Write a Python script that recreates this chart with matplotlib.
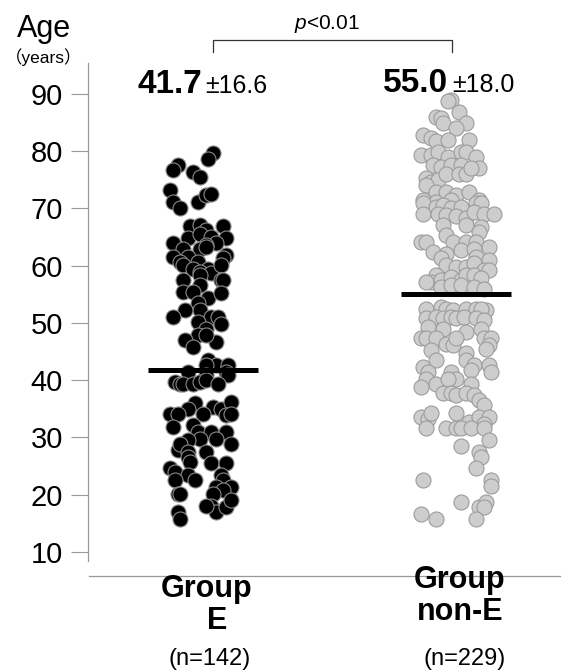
import numpy as np
import matplotlib.pyplot as plt
from matplotlib.lines import Line2D

plt.rcParams['font.family'] = ['Liberation Sans', 'Noto Sans CJK JP']
plt.rcParams['mathtext.fontset'] = 'custom'
plt.rcParams['mathtext.it'] = 'Liberation Sans:italic'
plt.rcParams['mathtext.rm'] = 'Liberation Sans'

# --- data ---
groups = ['E', 'non-E']
counts = [142, 229]
means = [41.7, 55.0]
sds = [16.6, 18.0]

# group E: age and horizontal jitter (category units)
e_age = [79.6, 78.7, 77.6, 76.7, 76.4, 75.5, 73.3, 71.2, 70.0, 71.2, 72.3, 72.5,
         66.9, 67.1, 66.2, 66.9, 64.8, 65.6, 65.1, 64.8, 63.9, 63.6, 63.9, 63.0,
         63.0, 63.3, 61.9, 61.6, 61.6, 60.7, 60.7, 61.3, 59.5,
         60.1, 59.5, 58.9, 58.7, 60.1, 57.5, 58.4, 56.6, 57.5, 57.5, 55.4, 55.4,
         54.3, 55.2, 53.4, 52.2, 52.2, 51.1, 51.1, 51.1, 49.9, 50.2, 49.0, 47.9,
         47.0, 45.8, 46.7, 47.9, 43.5, 42.6, 42.6, 42.6, 41.4, 41.4, 40.9, 40.9,
         39.7, 39.4, 39.4, 39.4, 39.7, 40.0, 39.4,
         36.0, 35.0, 35.3, 35.0, 36.2, 34.1, 34.1, 34.1, 33.9, 34.1, 31.8, 32.1,
         31.0, 31.0, 31.0, 29.8, 29.8, 29.5, 28.9, 27.8, 28.9, 27.5, 27.5, 26.6,
         25.7, 25.6, 25.6, 24.6, 24.0, 23.4, 22.5, 22.5, 23.4, 22.5, 21.3, 21.3,
         20.8, 20.2, 20.1, 20.2, 18.1, 17.0, 17.9, 19.0, 18.1, 17.0, 15.8]
e_jit = [0.04, 0.02, -0.10, -0.12, -0.04, -0.01, -0.13, -0.12, -0.09, -0.02, 0.01, 0.03,
         -0.05, -0.01, 0.01, 0.08, -0.06, -0.01, 0.03, 0.09, 0.05, 0.01, -0.12, -0.08,
         -0.01, 0.01, 0.09, -0.12, -0.06, -0.02, -0.09, 0.08, 0.02,
         -0.08, -0.04, -0.01, 0.03, 0.07, -0.08, -0.01, -0.01, 0.07, 0.08, -0.08, -0.04,
         0.02, 0.07, -0.02, -0.01, -0.07, -0.12, 0.03, 0.06, 0.07, -0.02, 0.01, -0.02,
         -0.07, -0.04, 0.05, 0.01, 0.02, 0.05, 0.01, 0.10, 0.09, -0.06, 0.01, 0.10,
         -0.11, -0.09, -0.08, -0.04, -0.01, 0.01, 0.06,
         -0.03, -0.06, 0.04, 0.07, 0.11, -0.13, -0.10, 0.00, 0.09, 0.11, -0.12, -0.04,
         -0.02, 0.03, 0.09, 0.05, -0.01, -0.06, 0.11, -0.10, -0.09, -0.06, 0.01, -0.06,
         -0.05, 0.03, 0.09, -0.13, -0.11, -0.06, -0.03, -0.11, 0.07, 0.08, 0.05, 0.11,
         0.08, -0.10, -0.09, 0.04, 0.03, 0.05, 0.09, 0.11, 0.01, -0.10, -0.09]

# group non-E
ne_age = [89.0, 88.7, 86.9, 86.0, 85.8, 84.9, 84.9, 84.0, 82.8, 82.3, 81.7, 82.0,
          82.0, 79.3, 79.3, 79.9, 79.0, 79.9, 79.9, 79.0, 77.6, 77.3, 77.6, 77.6,
          77.1, 75.3, 74.7, 75.0, 76.1, 76.1, 76.1, 77.0, 74.1, 72.9, 72.9, 72.3,
          72.9, 71.5, 71.5, 71.2, 71.5,
          70.9, 70.3, 70.6, 70.0, 70.3, 70.9, 70.9, 69.1, 69.1, 68.8, 68.6, 68.3,
          69.4, 69.1, 69.1, 67.1, 67.1, 66.8, 65.9, 65.3, 64.2, 64.2, 64.2, 64.2,
          64.2, 62.4, 62.1, 62.7, 63.0, 63.3, 61.6, 61.0, 61.3, 60.1, 59.8, 59.8,
          60.4, 59.2, 59.2, 58.4, 57.2, 57.5, 58.1, 57.5, 58.4, 58.4, 57.8, 57.2,
          56.3, 56.6, 56.6, 56.3, 56.0,
          52.5, 52.8, 52.5, 52.2, 52.5, 52.5, 52.2, 52.5, 50.8, 51.1, 50.8, 51.1,
          50.8, 51.1, 50.8, 50.5, 49.3, 49.0, 48.4, 49.0, 47.3, 47.3, 47.3, 47.3,
          46.4, 46.1, 47.3, 47.3, 46.1, 45.5, 45.2, 44.7, 43.5, 43.5, 42.6, 42.6,
          41.4, 42.3, 41.4, 40.3, 39.4, 41.4, 40.3, 40.3, 41.7, 39.4, 38.8, 37.7,
          37.7, 37.4, 37.7, 37.4, 36.5, 35.6,
          33.6, 33.3, 34.2, 34.2, 32.7, 33.6, 33.6, 32.4, 31.6, 31.6, 31.6, 31.6,
          31.6, 31.6, 29.5, 28.6, 27.5, 26.6, 24.6, 22.6, 22.5, 21.6, 18.7, 17.9,
          18.7, 17.9, 16.7, 15.8, 15.8]
ne_jit = [-0.02, -0.03, 0.01, -0.08, -0.06, -0.05, 0.04, 0.00, -0.13, -0.10, -0.08, -0.03,
          0.05, -0.14, -0.10, -0.07, -0.03, 0.02, 0.04, 0.08, -0.09, -0.06, -0.02, 0.02,
          0.09, -0.12, -0.10, -0.07, -0.04, 0.01, 0.04, 0.06, -0.12, -0.08, -0.04, 0.00,
          0.05, 0.09, -0.13, -0.08, -0.02,
          -0.13, -0.08, -0.05, -0.02, 0.02, 0.08, 0.10, -0.13, -0.07, -0.04, 0.00, 0.04,
          0.07, 0.11, 0.15, -0.05, 0.04, 0.10, 0.09, -0.04, -0.14, -0.12, -0.01, 0.04,
          0.08, -0.09, -0.04, 0.02, 0.07, 0.13, 0.08, 0.13, -0.06, -0.04, 0.00, 0.04,
          0.07, 0.11, 0.13, -0.08, -0.10, -0.06, -0.02, 0.02, 0.04, 0.07, 0.10, -0.12,
          -0.06, -0.02, 0.02, 0.07, 0.11,
          -0.12, -0.06, -0.04, -0.01, 0.04, 0.08, 0.12, 0.10, -0.12, -0.08, -0.05, -0.02,
          0.00, 0.03, 0.08, 0.11, -0.11, -0.05, 0.04, 0.10, 0.11, -0.14, -0.12, -0.08,
          -0.04, -0.01, 0.00, 0.14, 0.13, 0.12, -0.10, 0.04, 0.04, -0.08, 0.07, 0.13,
          0.14, -0.13, -0.11, -0.12, -0.08, -0.02, 0.00, -0.03, 0.06, 0.06, -0.14, -0.05,
          -0.02, 0.00, 0.04, 0.07, 0.09, 0.11,
          -0.14, -0.11, -0.10, 0.00, 0.05, 0.09, 0.13, 0.11, -0.12, -0.04, 0.00, 0.02,
          0.06, 0.11, 0.13, 0.02, 0.09, 0.10, 0.08, -0.13, 0.14, 0.14, 0.02, 0.09,
          0.12, 0.11, -0.14, -0.08, 0.08]

W, H = 582, 671
fig = plt.figure(figsize=(W / 100, H / 100), dpi=100)
ax = fig.add_axes([88 / W, 1 - 561 / H, 472 / W, 498 / H])


def px(x, y):
    # pixel position -> figure fraction
    return x / W, 1 - y / H


ax.scatter(0 + np.array(e_jit), e_age, s=117, c='black', edgecolors='#8a8a8a',
           linewidths=0.8, zorder=2)
ax.scatter(1 + np.array(ne_jit), ne_age, s=117, c='#cdcdcd', edgecolors='#9c9c9c',
           linewidths=0.8, zorder=2)

half = 0.217
ax.hlines(means, [i - half for i in range(2)], [i + half for i in range(2)],
          color='black', lw=3.6, zorder=3)

ax.set_xlim(-0.4545, 1.411)
ax.set_ylim(8.43, 95.4)
ax.set_xticks([])
ax.set_yticks(range(10, 91, 10))
ax.tick_params(axis='y', length=12, width=0.8, color='#999999', pad=6, labelsize=21)
for s in ['top', 'right', 'bottom']:
    ax.spines[s].set_visible(False)
ax.spines['left'].set_color('#999999')
ax.spines['left'].set_linewidth(0.9)

# detached baseline
fig.add_artist(Line2D([89 / W, 560 / W], [1 - 576 / H] * 2, color='#999999', lw=0.9))

# significance bracket
bx = [0.04, 0.04, 0.984, 0.984]
ax.plot(bx, [97.3, 99.4, 99.4, 97.3], color='#333333', lw=0.9, clip_on=False)
ax.text(0.49, 101.35, '$p$<0.01', ha='center', va='baseline', fontsize=15, clip_on=False)

# mean +/- sd labels
fig.text(*px(137, 93), f'{means[0]:.1f}', fontsize=24, fontweight='bold', va='baseline')
fig.text(*px(205, 93), f'\u00b1{sds[0]:.1f}', fontsize=18, va='baseline')
fig.text(*px(383, 92), f'{means[1]:.1f}', fontsize=24, fontweight='bold', va='baseline')
fig.text(*px(452, 92), f'\u00b1{sds[1]:.1f}', fontsize=18, va='baseline')

# y label
fig.text(*px(44, 37), 'Age', fontsize=22, ha='center', va='baseline')
fig.text(*px(44, 63), '（years）', fontsize=12.5, ha='center', va='baseline')

# group labels
fig.text(*px(207, 597), 'Group', fontsize=22, fontweight='bold', ha='center', va='baseline')
fig.text(*px(217, 629), groups[0], fontsize=22, fontweight='bold', ha='center', va='baseline')
fig.text(*px(210, 665), f'(n={counts[0]})', fontsize=17, ha='center', va='baseline')
fig.text(*px(460, 588), 'Group', fontsize=22, fontweight='bold', ha='center', va='baseline')
fig.text(*px(460, 620), groups[1], fontsize=22, fontweight='bold', ha='center', va='baseline')
fig.text(*px(465, 665), f'(n={counts[1]})', fontsize=17, ha='center', va='baseline')

fig.savefig('out.png', dpi=100)
